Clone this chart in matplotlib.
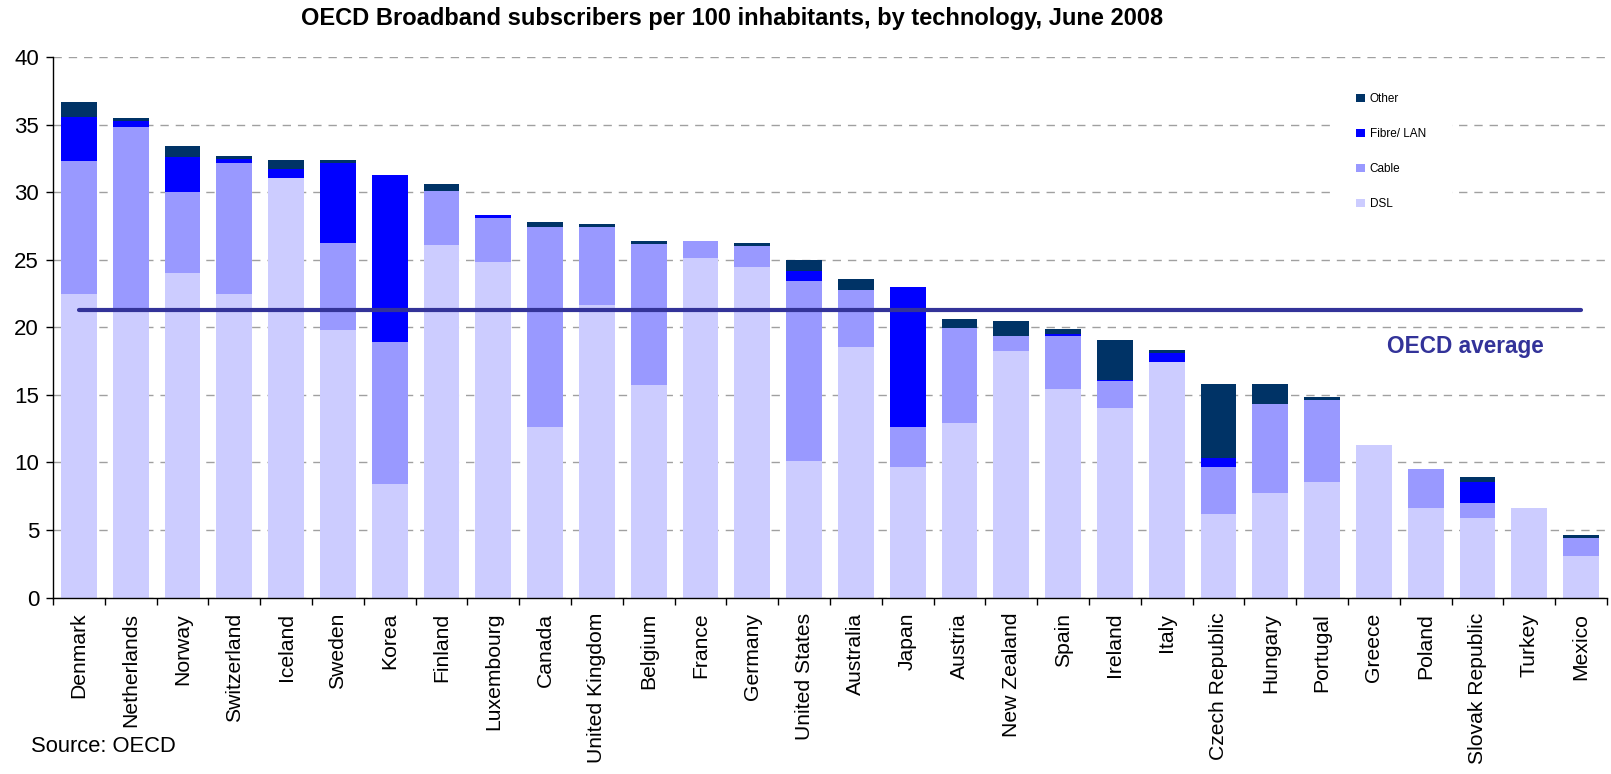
import matplotlib
matplotlib.use("Agg")
import matplotlib.pyplot as plt
from matplotlib.patches import Patch, Rectangle
import numpy as np

plt.rcParams['font.family'] = ['Liberation Sans', 'DejaVu Sans']

countries = ['Denmark', 'Netherlands', 'Norway', 'Switzerland', 'Iceland', 'Sweden',
             'Korea', 'Finland', 'Luxembourg', 'Canada', 'United Kingdom', 'Belgium',
             'France', 'Germany', 'United States', 'Australia', 'Japan', 'Austria',
             'New Zealand', 'Spain', 'Ireland', 'Italy', 'Czech Republic', 'Hungary',
             'Portugal', 'Greece', 'Poland', 'Slovak Republic', 'Turkey', 'Mexico']

dsl = [22.45, 21.3, 24.01, 22.45, 31.05, 19.78, 8.38, 26.08, 24.81, 12.6,
       21.62, 15.70, 25.10, 24.44, 10.07, 18.51, 9.63, 12.88, 18.21, 15.40,
       13.99, 17.40, 6.15, 7.77, 8.52, 11.26, 6.66, 5.85, 6.66, 3.04]
cable = [9.84, 13.5, 5.98, 9.71, 0.0, 6.46, 10.50, 3.99, 3.28, 14.8,
         5.78, 10.44, 1.26, 1.55, 13.33, 4.22, 2.96, 7.04, 1.12, 3.93,
         2.00, 0.0, 3.48, 6.52, 6.07, 0.0, 2.82, 1.11, 0.0, 1.40]
fibre = [3.26, 0.43, 2.59, 0.29, 0.66, 5.94, 12.38, 0.0, 0.21, 0.0,
         0.0, 0.0, 0.0, 0.0, 0.74, 0.0, 10.36, 0.0, 0.0, 0.15,
         0.13, 0.67, 0.69, 0.0, 0.0, 0.0, 0.0, 1.56, 0.0, 0.0]
other = [1.11, 0.26, 0.82, 0.21, 0.66, 0.19, 0.0, 0.53, 0.0, 0.37,
         0.22, 0.22, 0.0, 0.22, 0.81, 0.82, 0.0, 0.66, 1.11, 0.37,
         2.91, 0.22, 5.45, 1.48, 0.22, 0.0, 0.0, 0.37, 0.0, 0.22]

oecd_average = 21.25

series_names = ['DSL', 'Cable', 'Fibre/ LAN', 'Other']
series_colors = ['#CCCCFF', '#9999FF', '#0000FF', '#003366']

W, H = 1611, 774
fig = plt.figure(figsize=(W / 100, H / 100), dpi=100)
ax = fig.add_axes([53 / W, 1 - 597.5 / H, (1607 - 53) / W, (597.5 - 57) / H])

x = np.arange(len(countries))
bottom = np.zeros(len(countries))
handles = []
for name, vals, color in zip(series_names, [dsl, cable, fibre, other], series_colors):
    vals = np.array(vals)
    ax.bar(x, vals, width=0.69, bottom=bottom, color=color, linewidth=0, zorder=2)
    bottom += vals
    handles.append(Patch(facecolor=color, edgecolor='none', label=name))

# OECD average line across the bars
ax.plot([x[0], x[-1]], [oecd_average, oecd_average], color='#333399',
        linewidth=3.0, solid_capstyle='round', zorder=3)
ax.text(26.76, 18.6, 'OECD average', color='#333399', fontsize=16.3,
        fontweight='bold', ha='center', va='center')

ax.set_xlim(-0.5, len(countries) - 0.5)
ax.set_ylim(0, 40)
ax.set_yticks(np.arange(0, 41, 5))
ax.tick_params(axis='y', labelsize=16, length=5, width=1, pad=5)

ax.set_xticks(x)
ax.set_xticklabels(countries, rotation=90, fontsize=15.2)
ax.tick_params(axis='x', which='major', length=0, pad=11)
ax.set_xticks(np.arange(-0.5, len(countries), 1), minor=True)
ax.tick_params(axis='x', which='minor', length=5, width=1)

ax.yaxis.grid(True, color='#a0a0a0', linewidth=1.0, linestyle=(0, (6, 5)), zorder=0)
ax.set_axisbelow(True)
for side in ['top', 'right']:
    ax.spines[side].set_visible(False)
for side in ['left', 'bottom']:
    ax.spines[side].set_color('black')
    ax.spines[side].set_linewidth(1.0)

# white box behind the legend hides the gridlines there
ax.add_patch(Rectangle((1333 / W, 1 - 232 / H), (1452 - 1333) / W, (232 - 70) / H,
                       transform=fig.transFigure, facecolor='white', edgecolor='none',
                       zorder=1))

fig.legend(handles[::-1], [h.get_label() for h in handles[::-1]],
           loc='upper left', bbox_to_anchor=(1356 / W, 1 - 93 / H),
           frameon=False, fontsize=8.5, handlelength=0.75, handleheight=0.75,
           handletextpad=0.4, labelspacing=1.95, borderpad=0, borderaxespad=0)

fig.text(732 / W, 1 - 19 / H,
         'OECD Broadband subscribers per 100 inhabitants, by technology, June 2008',
         ha='center', va='center', fontsize=17, fontweight='bold')
fig.text(31 / W, 1 - 746 / H, 'Source: OECD', ha='left', va='center', fontsize=15.8)

fig.savefig('out.png', dpi=100, facecolor='white')
